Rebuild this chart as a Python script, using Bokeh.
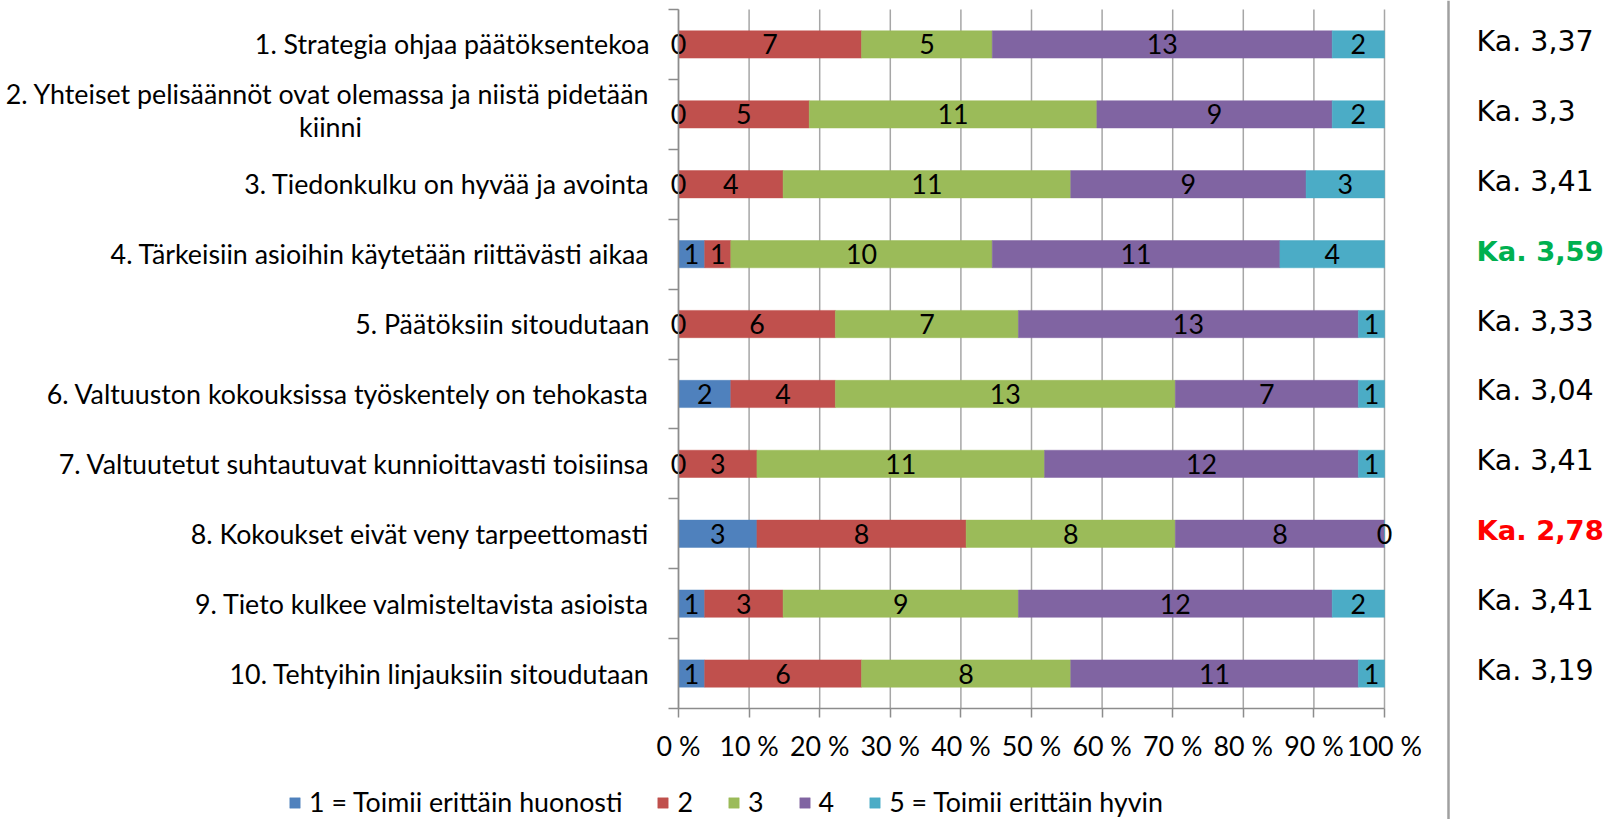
from bokeh.plotting import figure
from bokeh.models import (ColumnDataSource, Range1d, FixedTicker, LinearAxis,
                          Legend, LegendItem, Span)
from bokeh.embed import file_html
from bokeh.resources import INLINE
from bokeh.core.properties import value

# ---------------- data ----------------
questions = [
    "1. Strategia ohjaa päätöksentekoa",
    "2. Yhteiset pelisäännöt ovat olemassa ja niistä pidetään\nkiinni",
    "3. Tiedonkulku on hyvää ja avointa",
    "4. Tärkeisiin asioihin käytetään riittävästi aikaa",
    "5. Päätöksiin sitoudutaan",
    "6. Valtuuston kokouksissa työskentely on tehokasta",
    "7. Valtuutetut suhtautuvat kunnioittavasti toisiinsa",
    "8. Kokoukset eivät veny tarpeettomasti",
    "9. Tieto kulkee valmisteltavista asioista",
    "10. Tehtyihin linjauksiin sitoudutaan",
]
s1 = [0, 0, 0, 1, 0, 2, 0, 3, 1, 1]
s2 = [7, 5, 4, 1, 6, 4, 3, 8, 3, 6]
s3 = [5, 11, 11, 10, 7, 13, 11, 8, 9, 8]
s4 = [13, 9, 9, 11, 13, 7, 12, 8, 12, 11]
s5 = [2, 2, 3, 4, 1, 1, 1, 0, 2, 1]
series_names = ["1 = Toimii erittäin huonosti", "2", "3", "4",
                "5 = Toimii erittäin hyvin"]
colors = ["#4F81BD", "#C0504D", "#9BBB59", "#8064A2", "#4BACC6"]
x_ticks = [0, 10, 20, 30, 40, 50, 60, 70, 80, 90, 100]
x_tick_labels = ["0 %", "10 %", "20 %", "30 %", "40 %", "50 %", "60 %",
                 "70 %", "80 %", "90 %", "100 %"]
averages = ["Ka. 3,37", "Ka. 3,3", "Ka. 3,41", "Ka. 3,59", "Ka. 3,33",
            "Ka. 3,04", "Ka. 3,41", "Ka. 2,78", "Ka. 3,41", "Ka. 3,19"]
avg_colors = ["#000000", "#000000", "#000000", "#00B050", "#000000",
              "#000000", "#000000", "#FF0000", "#000000", "#000000"]
avg_bold = [False, False, False, True, False, False, False, True, False, False]

# ---------------- layout constants (pixels) ----------------
W, H = 1606, 819
PX0, PX100 = 678, 1384          # 0 % and 100 % on screen
PY_TOP, PY_BOT = 9, 708         # top and bottom of the bar area
FONT = "Lato"
FS = "26.8px"
GRID = "#A6A6A6"
AXIS = "#8C8C8C"

n = len(questions)
ppx = (PX100 - PX0) / 100.0
ppy = (PY_BOT - PY_TOP) / n


def px2x(px):
    return (px - PX0) / ppx


def py2y(py):
    return (PY_BOT - py) / ppy


# ---------------- derived ----------------
series = [s1, s2, s3, s4, s5]
y_pos = [n - i - 0.5 for i in range(n)]
totals = [sum(v) for v in zip(*series)]
pct = [[c / t * 100 for c, t in zip(s, totals)] for s in series]

src = ColumnDataSource(dict(y=y_pos, **{f"p{k}": pct[k] for k in range(5)}))

lab_x, lab_y, lab_t = [], [], []
for i in range(n):
    left = 0.0
    for k in range(5):
        w = pct[k][i]
        lab_x.append(left + w / 2)
        lab_y.append(y_pos[i])
        lab_t.append(str(series[k][i]))
        left += w

p = figure(width=W, height=H,
           x_range=Range1d(px2x(0), px2x(W)), y_range=Range1d(py2y(H), py2y(0)),
           output_backend="svg", toolbar_location=None,
           x_axis_type=None, y_axis_type=None, min_border=0)
p.outline_line_color = None
p.background_fill_color = "white"
p.border_fill_color = "white"
p.xgrid.visible = False
p.ygrid.visible = False

# vertical gridlines
p.segment(x0=x_ticks, y0=[0] * len(x_ticks), x1=x_ticks, y1=[n] * len(x_ticks),
          line_color=GRID, line_width=1.5)

renderers = p.hbar_stack([f"p{k}" for k in range(5)], y="y", height=0.39,
                         fill_color=colors, line_color=colors, line_width=0.5,
                         source=src)

p.text(x=lab_x, y=lab_y, text=lab_t, text_align="center",
       text_baseline="middle", text_font=value(FONT), text_font_size=FS,
       text_color="#000000")

# x axis
xaxis = LinearAxis(fixed_location=0, bounds=(0, 100),
                   ticker=FixedTicker(ticks=x_ticks))
xaxis.major_label_overrides = dict(zip(x_ticks, x_tick_labels))
xaxis.major_tick_out = 9
xaxis.major_tick_in = 0
xaxis.minor_tick_out = 0
xaxis.minor_tick_in = 0
xaxis.major_tick_line_color = AXIS
xaxis.major_tick_line_width = 1.5
xaxis.axis_line_color = AXIS
xaxis.axis_line_width = 1.5
xaxis.major_label_text_font = FONT
xaxis.major_label_text_font_size = FS
xaxis.major_label_text_color = "#000000"
xaxis.major_label_standoff = 12
p.add_layout(xaxis, "below")

# y axis (category labels); a wrapped label keeps its first line on the axis
first_lines = [q.split("\n")[0] for q in questions]
label_pos = [y + (20 / ppy if "\n" in q else 0) for y, q in zip(y_pos, questions)]
yaxis = LinearAxis(fixed_location=0, bounds=(0, n),
                   ticker=FixedTicker(ticks=label_pos,
                                      minor_ticks=list(range(n + 1))))
yaxis.major_label_overrides = dict(zip(label_pos, first_lines))
yaxis.major_tick_out = 0
yaxis.major_tick_in = 0
yaxis.minor_tick_out = 10
yaxis.minor_tick_in = 0
yaxis.minor_tick_line_color = AXIS
yaxis.minor_tick_line_width = 1.5
yaxis.axis_line_color = AXIS
yaxis.axis_line_width = 1.5
yaxis.major_label_text_font = FONT
yaxis.major_label_text_font_size = FS
yaxis.major_label_text_color = "#000000"
yaxis.major_label_standoff = 19
p.add_layout(yaxis, "left")

# second lines of wrapped labels, centred under the first line
wrap_y, wrap_t = [], []
for y, q in zip(y_pos, questions):
    if "\n" in q:
        wrap_y.append(y - 13 / ppy)
        wrap_t.append(q.split("\n")[1])
p.text(x=[px2x(330)] * len(wrap_t), y=wrap_y, text=wrap_t, text_align="center",
       text_baseline="middle", text_font=value(FONT), text_font_size=FS,
       text_color="#000000")

# legend
legend = Legend(items=[LegendItem(label=nm, renderers=[r])
                       for nm, r in zip(series_names, renderers)],
                orientation="horizontal", location=(288, 1),
                glyph_width=13, glyph_height=13, label_standoff=8, spacing=34,
                label_width=0, label_height=0,
                padding=0, margin=0, border_line_color=None,
                background_fill_alpha=0, label_text_font=FONT,
                label_text_font_size=FS, label_text_color="#000000")
p.add_layout(legend, "center")

# separator and averages
p.add_layout(Span(location=px2x(1448), dimension="height",
                  line_color="#A0A0A0", line_width=2.5))
avg_src = ColumnDataSource(dict(
    y=y_pos, t=averages, c=avg_colors,
    fs=["27.4px" if b else "28.5px" for b in avg_bold],
    st=["bold" if b else "normal" for b in avg_bold]))
p.text(x=px2x(1476), y="y", text="t", source=avg_src, text_color="c",
       text_font=value("DejaVu Sans"), text_font_size="fs",
       text_font_style="st", text_align="left", text_baseline="middle",
       y_offset=-3)

open("out.html", "w").write(file_html(p, INLINE))
